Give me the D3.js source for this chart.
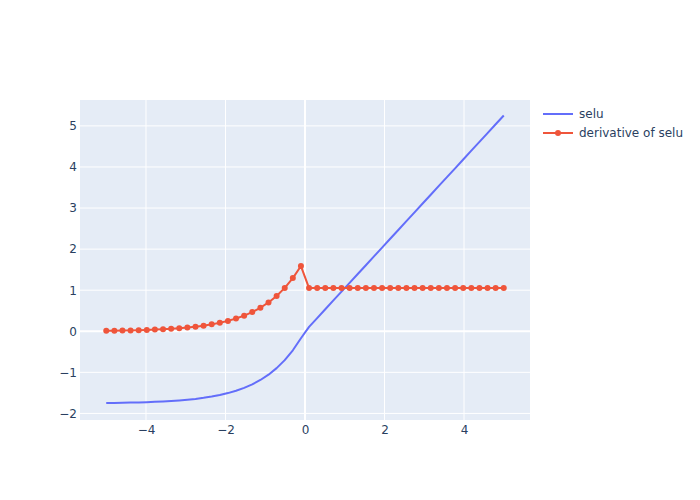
<!DOCTYPE html>
<html>
<head>
<meta charset="utf-8">
<script src="https://cdn.jsdelivr.net/npm/d3@7"></script>
<style>
  html, body { margin: 0; padding: 0; background: #fff; }
  svg { display: block; }
</style>
</head>
<body>
<svg id="chart" width="700" height="500"></svg>
<script>
const xValues = [-5.000, -4.796, -4.592, -4.388, -4.184, -3.980, -3.776, -3.571, -3.367, -3.163,
  -2.959, -2.755, -2.551, -2.347, -2.143, -1.939, -1.735, -1.531, -1.327, -1.122,
  -0.918, -0.714, -0.510, -0.306, -0.102, 0.102, 0.306, 0.510, 0.714, 0.918,
  1.122, 1.327, 1.531, 1.735, 1.939, 2.143, 2.347, 2.551, 2.755, 2.959,
  3.163, 3.367, 3.571, 3.776, 3.980, 4.184, 4.388, 4.592, 4.796, 5.000];
const seluValues = [-1.7463, -1.7436, -1.7403, -1.7363, -1.7313, -1.7252, -1.7178, -1.7087, -1.6975, -1.6838,
  -1.6669, -1.6463, -1.6210, -1.5899, -1.5518, -1.5051, -1.4479, -1.3776, -1.2915, -1.1859,
  -1.0563, -0.8974, -0.7026, -0.4636, -0.1705, 0.1072, 0.3217, 0.5361, 0.7505, 0.9649,
  1.1794, 1.3938, 1.6083, 1.8227, 2.0371, 2.2516, 2.4660, 2.6804, 2.8949, 3.1093,
  3.3237, 3.5382, 3.7526, 3.9670, 4.1815, 4.3959, 4.6103, 4.8248, 5.0392, 5.2535];
const derivValues = [0.0118, 0.0145, 0.0178, 0.0218, 0.0268, 0.0329, 0.0403, 0.0494, 0.0606, 0.0743,
  0.0912, 0.1118, 0.1371, 0.1682, 0.2063, 0.2530, 0.3102, 0.3805, 0.4666, 0.5722,
  0.7018, 0.8607, 1.0555, 1.2945, 1.5876, 1.0507, 1.0507, 1.0507, 1.0507, 1.0507,
  1.0507, 1.0507, 1.0507, 1.0507, 1.0507, 1.0507, 1.0507, 1.0507, 1.0507, 1.0507,
  1.0507, 1.0507, 1.0507, 1.0507, 1.0507, 1.0507, 1.0507, 1.0507, 1.0507, 1.0507];
const seriesNames = ["selu", "derivative of selu"];
const xTicks = [-4, -2, 0, 2, 4];
const yTicks = [-2, -1, 0, 1, 2, 3, 4, 5];

const colors = ["#636efa", "#EF553B"];
const font = "'DejaVu Sans', verdana, arial, sans-serif";
const textColor = "#2a3f5f";

const svg = d3.select("#chart");
const plot = { left: 80, top: 100, right: 530, bottom: 420 };

const x = d3.scaleLinear().domain([-5.66, 5.66]).range([plot.left, plot.right]);
const y = d3.scaleLinear().domain([-2.16, 5.63]).range([plot.bottom, plot.top]);

svg.append("rect").attr("x", plot.left).attr("y", plot.top)
  .attr("width", plot.right - plot.left).attr("height", plot.bottom - plot.top)
  .attr("fill", "#E5ECF6");

// grid
const grid = svg.append("g");
xTicks.forEach(t => {
  grid.append("line").attr("x1", x(t)).attr("x2", x(t)).attr("y1", plot.top).attr("y2", plot.bottom)
    .attr("stroke", "#fff").attr("stroke-width", t === 0 ? 2 : 1);
});
yTicks.forEach(t => {
  grid.append("line").attr("y1", y(t)).attr("y2", y(t)).attr("x1", plot.left).attr("x2", plot.right)
    .attr("stroke", "#fff").attr("stroke-width", t === 0 ? 2 : 1);
});

const fmt = v => (v < 0 ? "\u2212" + Math.abs(v) : String(v));

// axes via d3 axis
const xAxis = svg.append("g").attr("transform", `translate(0,${plot.bottom})`)
  .call(d3.axisBottom(x).tickValues(xTicks).tickFormat(fmt).tickSize(0).tickPadding(5));
const yAxis = svg.append("g").attr("transform", `translate(${plot.left},0)`)
  .call(d3.axisLeft(y).tickValues(yTicks).tickFormat(fmt).tickSize(0).tickPadding(3));
[xAxis, yAxis].forEach(a => {
  a.select(".domain").remove();
  a.selectAll("text").attr("font-family", font).attr("font-size", 12).attr("fill", textColor);
});

const data = xValues.map((xv, i) => ({ x: xv, s: seluValues[i], d: derivValues[i] }));

const lineS = d3.line().x(d => x(d.x)).y(d => y(d.s));
const lineD = d3.line().x(d => x(d.x)).y(d => y(d.d));

svg.append("path").datum(data).attr("d", lineS).attr("fill", "none")
  .attr("stroke", colors[0]).attr("stroke-width", 2).attr("stroke-linejoin", "round");
svg.append("path").datum(data).attr("d", lineD).attr("fill", "none")
  .attr("stroke", colors[1]).attr("stroke-width", 2).attr("stroke-linejoin", "round");
svg.append("g").selectAll("circle").data(data).join("circle")
  .attr("cx", d => x(d.x)).attr("cy", d => y(d.d)).attr("r", 3).attr("fill", colors[1]);

// legend
const legend = svg.append("g").attr("font-family", font).attr("font-size", 12).attr("fill", textColor);
seriesNames.forEach((name, i) => {
  const ly = 114 + i * 19;
  legend.append("line").attr("x1", 543).attr("x2", 573).attr("y1", ly).attr("y2", ly)
    .attr("stroke", colors[i]).attr("stroke-width", 2);
  if (i === 1) legend.append("circle").attr("cx", 558).attr("cy", ly).attr("r", 3).attr("fill", colors[i]);
  legend.append("text").attr("x", 579).attr("y", ly).attr("dy", "0.35em").text(name);
});
</script>
</body>
</html>
